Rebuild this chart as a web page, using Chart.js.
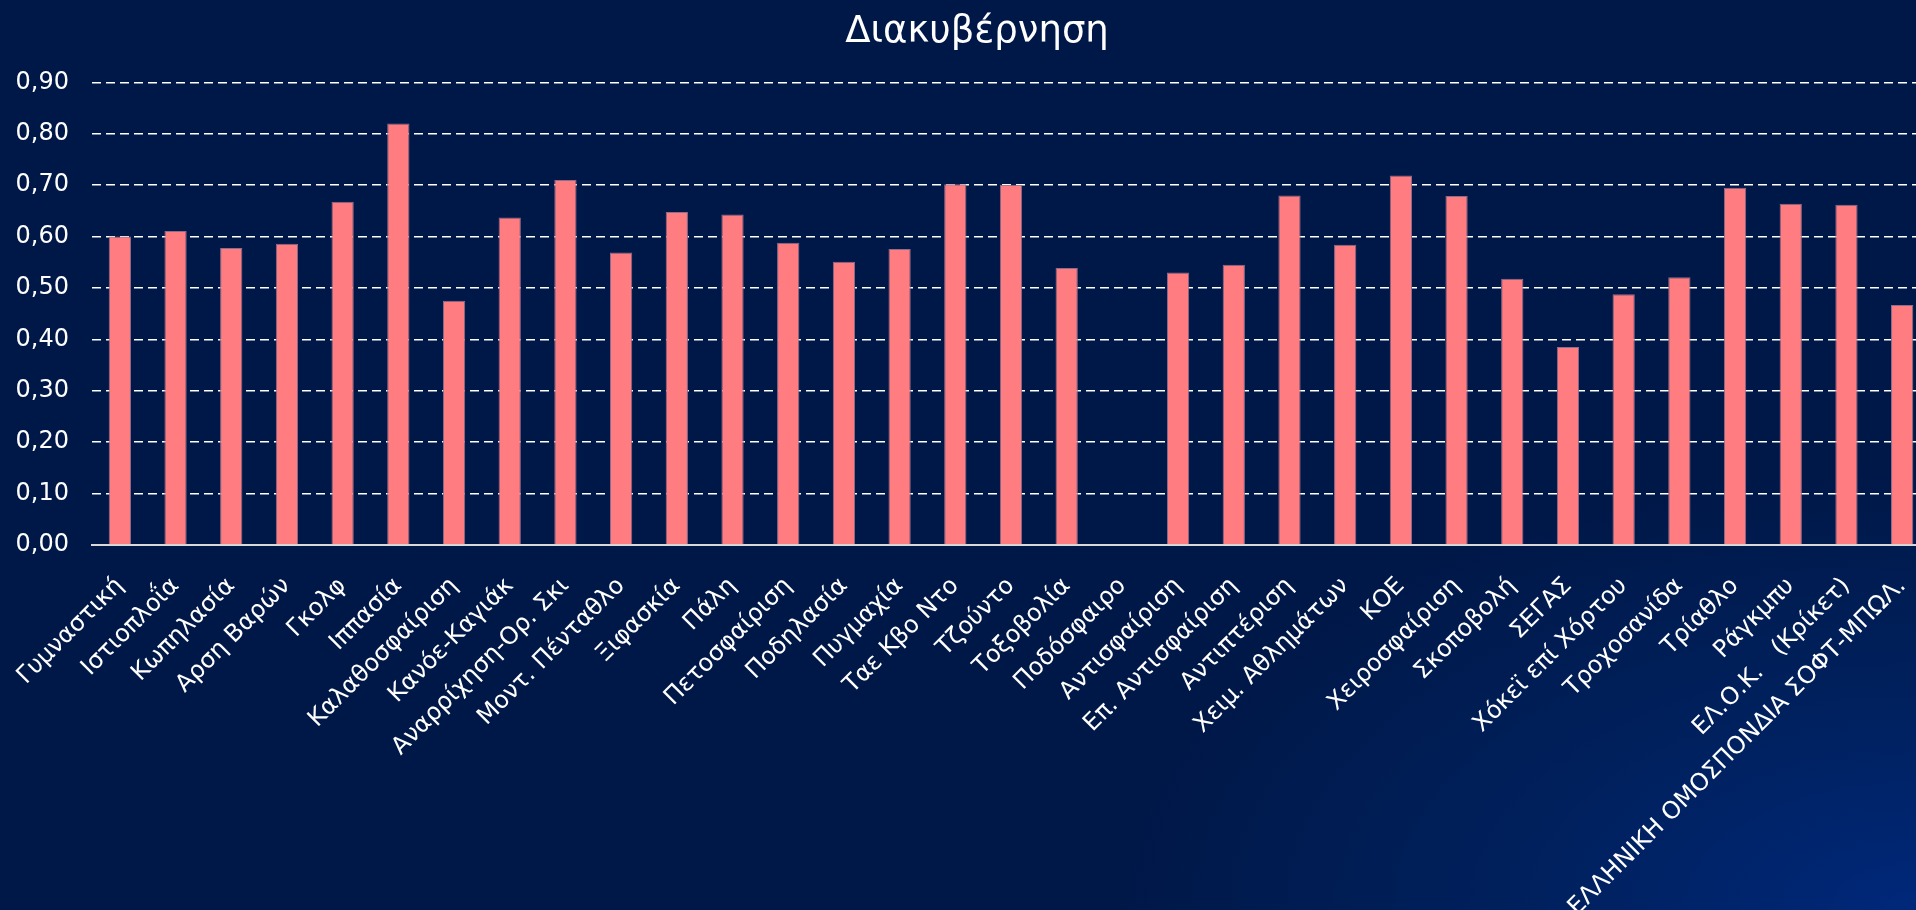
<!DOCTYPE html>
<html>
<head>
<meta charset="utf-8">
<script src="https://cdn.jsdelivr.net/npm/chart.js@4.4.0/dist/chart.umd.min.js"></script>
<style>
  html, body {
    margin: 0;
    padding: 0;
    overflow: hidden;
    width: 1916px;
    height: 910px;
  }
  body {
    background-color: #001848;
    background-image: radial-gradient(ellipse 800px 440px at 100% 100%, #00287a 0%, #00215f 45%, #001848 100%);
  }
  #wrap {
    width: 1954px;
    height: 910px;
  }
</style>
</head>
<body>
<div id="wrap"><canvas id="govChart"></canvas></div>
<script>
const categories = [
  'Γυμναστική', 'Ιστιοπλοΐα', 'Κωπηλασία', 'Αρση Βαρών', 'Γκολφ', 'Ιππασία',
  'Καλαθοσφαίριση', 'Κανόε-Καγιάκ', 'Αναρρίχηση-Ορ. Σκι', 'Μοντ. Πένταθλο',
  'Ξιφασκία', 'Πάλη', 'Πετοσφαίριση', 'Ποδηλασία', 'Πυγμαχία', 'Ταε Κβο Ντο',
  'Τζούντο', 'Τοξοβολία', 'Ποδόσφαιρο', 'Αντισφαίριση', 'Επ. Αντισφαίριση',
  'Αντιπτέριση', 'Χειμ. Αθλημάτων', 'ΚΟΕ', 'Χειροσφαίριση', 'Σκοποβολή',
  'ΣΕΓΑΣ', 'Χόκεϊ επί Χόρτου', 'Τροχοσανίδα', 'Τρίαθλο', 'Ράγκμπυ',
  'ΕΛ.Ο.Κ.   (Κρίκετ)', 'ΕΛΛΗΝΙΚΗ ΟΜΟΣΠΟΝΔΙΑ ΣΟΦΤ-ΜΠΩΛ.'
];

const governanceScores = [
  0.600, 0.611, 0.578, 0.586, 0.668, 0.820,
  0.475, 0.637, 0.710, 0.569,
  0.648, 0.643, 0.588, 0.551, 0.576, 0.702,
  0.701, 0.539, null, 0.530, 0.545,
  0.680, 0.584, 0.719, 0.679, 0.518,
  0.385, 0.488, 0.521, 0.695, 0.664,
  0.662, 0.467
];

const yTickLabels = ['0,00', '0,10', '0,20', '0,30', '0,40', '0,50', '0,60', '0,70', '0,80', '0,90'];

const ctx = document.getElementById('govChart').getContext('2d');
new Chart(ctx, {
  type: 'bar',
  data: {
    labels: categories,
    datasets: [{
      label: 'Διακυβέρνηση',
      data: governanceScores,
      backgroundColor: '#ff7c80',
      borderColor: '#8c6d8a',
      borderWidth: 1,
      categoryPercentage: 1.0,
      barPercentage: 0.4
    }]
  },
  options: {
    responsive: true,
    maintainAspectRatio: false,
    animation: false,
    layout: {
      padding: 0
    },
    plugins: {
      legend: { display: false },
      tooltip: { enabled: false },
      title: {
        display: true,
        text: 'Διακυβέρνηση',
        color: '#ffffff',
        font: { family: 'DejaVu Sans', size: 37, weight: 'normal' },
        padding: { top: 10, bottom: 28 }
      }
    },
    scales: {
      x: {
        grid: { display: false, drawTicks: false },
        border: { display: true, color: '#d9d9d9', width: 2 },
        ticks: {
          color: '#ffffff',
          font: { family: 'DejaVu Sans', size: 24 },
          autoSkip: false,
          maxRotation: 45,
          minRotation: 45,
          padding: 27
        },
        afterFit: (scale) => {
          scale.height = 365;
          // plot runs off the right edge of the window, like the original slide
          scale.paddingLeft = 0;
          scale.paddingRight = 24;
        }
      },
      y: {
        min: 0,
        max: 0.9,
        grid: {
          color: '#ffffff',
          lineWidth: 1.5,
          drawTicks: false
        },
        border: { display: false, dash: [9, 5] },
        ticks: {
          stepSize: 0.1,
          color: '#ffffff',
          font: { family: 'DejaVu Sans', size: 24 },
          padding: 23,
          callback: (value, index) => yTickLabels[index]
        },
        afterFit: (scale) => { scale.width = 92; }
      }
    }
  }
});
</script>
</body>
</html>
